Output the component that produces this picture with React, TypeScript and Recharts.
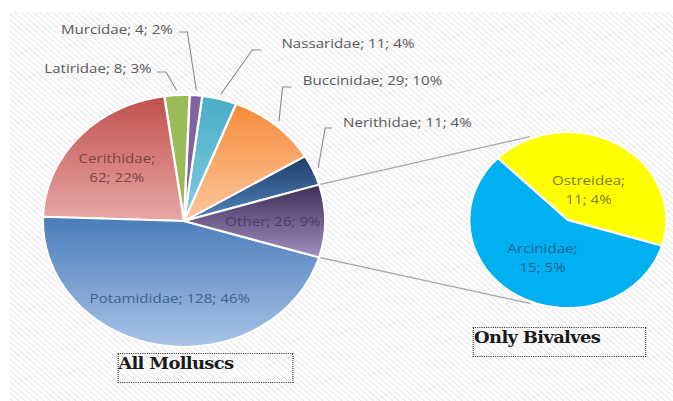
import React from 'react';
import { PieChart, Pie, Cell } from 'recharts';

// main pie (all molluscs), counter-clockwise from the "Other" slice
const mainNames = ['Nerithidae', 'Buccinidae', 'Nassaridae', 'Murcidae', 'Latiridae', 'Cerithidae', 'Potamididae', 'Other'];
const mainCounts = [11, 29, 11, 4, 8, 62, 128, 26];
const mainPercents = [4, 10, 4, 2, 3, 22, 46, 9];

// secondary pie (the "Other" slice split up)
const bivalveNames = ['Ostreidea', 'Arcinidae'];
const bivalveCounts = [11, 15];
const bivalvePercents = [4, 5];

const mainTop = ['#1f3d66', '#f68b3a', '#4bacc6', '#8064a2', '#9bbb59', '#c0504d', '#4a7cba', '#3d2c55'];
const mainBottom = ['#5285c2', '#fcc79c', '#7fcde1', '#8064a2', '#9bbb59', '#e8a8a6', '#a8c3e6', '#a28fc4'];
const bivalveColors = ['#ffff00', '#00b0f0'];

const mainData = mainNames.map((name, i) => ({ name, value: mainCounts[i] }));
const bivalveData = bivalveNames.map((name, i) => ({ name, value: bivalveCounts[i] }));

// the reference is squeezed wider than tall, so draw round and stretch
const W = 673;
const H = 401;
const STRETCH = 1.12;
const INNER_W = W / STRETCH;

const MAIN = { cx: 164.3, cy: 221, r: 126 };
const SUB = { cx: 507, cy: 220, r: 88 };

const mainTotal = mainCounts.reduce((a, b) => a + b, 0);
const mainStart = (180 * mainCounts[mainCounts.length - 1]) / mainTotal;
const subStart = -17;

const RAD = Math.PI / 180;
const polar = (cx: number, cy: number, r: number, deg: number) => ({
  x: cx + r * Math.cos(-deg * RAD),
  y: cy + r * Math.sin(-deg * RAD),
});

const FONT = '"Open Sans", "DejaVu Sans", sans-serif';

// leader-line labels, offsets from the pie centre
const outsideLabels: Record<string, { ex: number; ey: number; tail: number; tx: number; ty: number }> = {
  Murcidae: { ex: 3, ey: -189, tail: -8, tx: -10, ty: -192 },
  Latiridae: { ex: -16, ey: -149, tail: -8, tx: -29, ty: -153 },
  Nassaridae: { ex: 61, ey: -171, tail: 8, tx: 87, ty: -178 },
  Buccinidae: { ex: 88, ey: -134, tail: 8, tx: 106, ty: -141 },
  Nerithidae: { ex: 126, ey: -93, tail: 6, tx: 142, ty: -99 },
};

const insideLabels: Record<string, { k: number; wrap: boolean; color: string }> = {
  Cerithidae: { k: 0.64, wrap: true, color: '#7e4341' },
  Potamididae: { k: 0.62, wrap: false, color: '#40628f' },
  Other: { k: 0.63, wrap: false, color: '#4b3e5f' },
  Ostreidea: { k: 0.41, wrap: true, color: '#7c7c12' },
  Arcinidae: { k: 0.5, wrap: true, color: '#1f6390' },
};

const LabelText = ({ x, y, name, count, pct }: any) => {
  const cfg = insideLabels[name];
  const style = { fontFamily: FONT, fontSize: 13.5 };
  if (cfg.wrap) {
    return (
      <text x={x} y={y} textAnchor="middle" fill={cfg.color} style={style}>
        <tspan x={x} y={y - 9.5} dominantBaseline="central">{`${name};`}</tspan>
        <tspan x={x} y={y + 9.5} dominantBaseline="central">{`${count}; ${pct}%`}</tspan>
      </text>
    );
  }
  return (
    <text x={x} y={y} textAnchor="middle" dominantBaseline="central" fill={cfg.color} style={style}>
      {`${name}; ${count}; ${pct}%`}
    </text>
  );
};

const renderMainLabel = (props: any) => {
  const { cx, cy, midAngle, outerRadius, index } = props;
  const name = mainNames[index];
  const out = outsideLabels[name];
  if (out) {
    const p = polar(cx, cy, outerRadius + 5, midAngle);
    const ex = cx + out.ex;
    const ey = cy + out.ey;
    return (
      <g key={`ml-${index}`}>
        <polyline
          points={`${p.x},${p.y} ${ex},${ey} ${ex + out.tail},${ey}`}
          fill="none"
          stroke="#8c8c8c"
          strokeWidth={1}
        />
        <text
          x={cx + out.tx}
          y={cy + out.ty}
          textAnchor={out.tail < 0 ? 'end' : 'start'}
          dominantBaseline="central"
          fill="#595959"
          style={{ fontFamily: FONT, fontSize: 13.5 }}
        >
          {`${name}; ${mainCounts[index]}; ${mainPercents[index]}%`}
        </text>
      </g>
    );
  }
  const p = polar(cx, cy, outerRadius * insideLabels[name].k, midAngle);
  return <LabelText key={`ml-${index}`} x={p.x} y={p.y} name={name} count={mainCounts[index]} pct={mainPercents[index]} />;
};

const renderSubLabel = (props: any) => {
  const { cx, cy, midAngle, outerRadius, index } = props;
  const name = bivalveNames[index];
  const p = polar(cx, cy, outerRadius * insideLabels[name].k, midAngle);
  return <LabelText key={`sl-${index}`} x={p.x} y={p.y} name={name} count={bivalveCounts[index]} pct={bivalvePercents[index]} />;
};

const TitleBox = ({ left, top, width, children }: any) => (
  <div
    style={{
      position: 'absolute',
      left,
      top,
      width,
      height: 30,
      boxSizing: 'border-box',
      border: '1px dotted #3a3a3a',
      fontFamily: '"DejaVu Serif", "Liberation Serif", serif',
      fontWeight: 'bold',
      fontSize: 16,
      lineHeight: '20px',
      letterSpacing: '-0.6px',
      color: '#1a1a1a',
      whiteSpace: 'nowrap',
    }}
  >
    {children}
  </div>
);

export default function App() {
  // connector lines from the "Other" slice corners to the bivalve pie
  const upA = polar(MAIN.cx, MAIN.cy, MAIN.r, mainStart);
  const loA = polar(MAIN.cx, MAIN.cy, MAIN.r, -mainStart);
  const upB = polar(SUB.cx, SUB.cy, SUB.r + 2, 112);
  const loB = polar(SUB.cx, SUB.cy, SUB.r + 2, 248);

  return (
    <div style={{ position: 'fixed', left: 0, top: 0, width: W, height: H, overflow: 'hidden', background: '#fff' }}>
      <div
        style={{
          position: 'absolute',
          left: 0,
          top: 0,
          width: INNER_W,
          height: H,
          transform: `scaleX(${STRETCH})`,
          transformOrigin: '0 0',
        }}
      >
        <svg width={INNER_W} height={H} style={{ position: 'absolute', left: 0, top: 0 }}>
          <defs>
            <pattern id="hatch" width={4} height={4} patternUnits="userSpaceOnUse" patternTransform="rotate(-45)">
              <rect width={4} height={4} fill="#fcfcfc" />
              <line x1={0} y1={0} x2={0} y2={4} stroke="#e1e1e1" strokeWidth={1.2} />
            </pattern>
            {mainNames.map((n, i) => (
              <linearGradient key={n} id={`mg-${i}`} x1="0" y1="0" x2="0" y2="1">
                <stop offset="0%" stopColor={mainTop[i]} />
                <stop offset="100%" stopColor={mainBottom[i]} />
              </linearGradient>
            ))}
          </defs>
          <rect x={9} y={12} width={INNER_W - 9} height={H - 12} fill="url(#hatch)" />
          <line x1={upA.x} y1={upA.y} x2={upB.x} y2={upB.y} stroke="#a6a6a6" strokeWidth={1.2} />
          <line x1={loA.x} y1={loA.y} x2={loB.x} y2={loB.y} stroke="#a6a6a6" strokeWidth={1.2} />
        </svg>

        <div style={{ position: 'absolute', left: 0, top: 0 }}>
          <PieChart width={INNER_W} height={H} margin={{ top: 0, right: 0, bottom: 0, left: 0 }}>
            <Pie
              data={mainData}
              dataKey="value"
              nameKey="name"
              cx={MAIN.cx}
              cy={MAIN.cy}
              outerRadius={MAIN.r}
              startAngle={mainStart}
              endAngle={mainStart + 360}
              stroke="#ffffff"
              strokeWidth={2}
              label={renderMainLabel}
              labelLine={false}
              isAnimationActive={false}
            >
              {mainData.map((d, i) => (
                <Cell key={d.name} fill={`url(#mg-${i})`} />
              ))}
            </Pie>
            <Pie
              data={bivalveData}
              dataKey="value"
              nameKey="name"
              cx={SUB.cx}
              cy={SUB.cy}
              outerRadius={SUB.r}
              startAngle={subStart}
              endAngle={subStart + 360}
              stroke="#ffffff"
              strokeWidth={2}
              label={renderSubLabel}
              labelLine={false}
              isAnimationActive={false}
            >
              {bivalveData.map((d, i) => (
                <Cell key={d.name} fill={bivalveColors[i]} />
              ))}
            </Pie>
          </PieChart>
        </div>

        <TitleBox left={104.5} top={353} width={157}>All Molluscs</TitleBox>
        <TitleBox left={422.3} top={327} width={154.5}>Only Bivalves</TitleBox>
      </div>
    </div>
  );
}
